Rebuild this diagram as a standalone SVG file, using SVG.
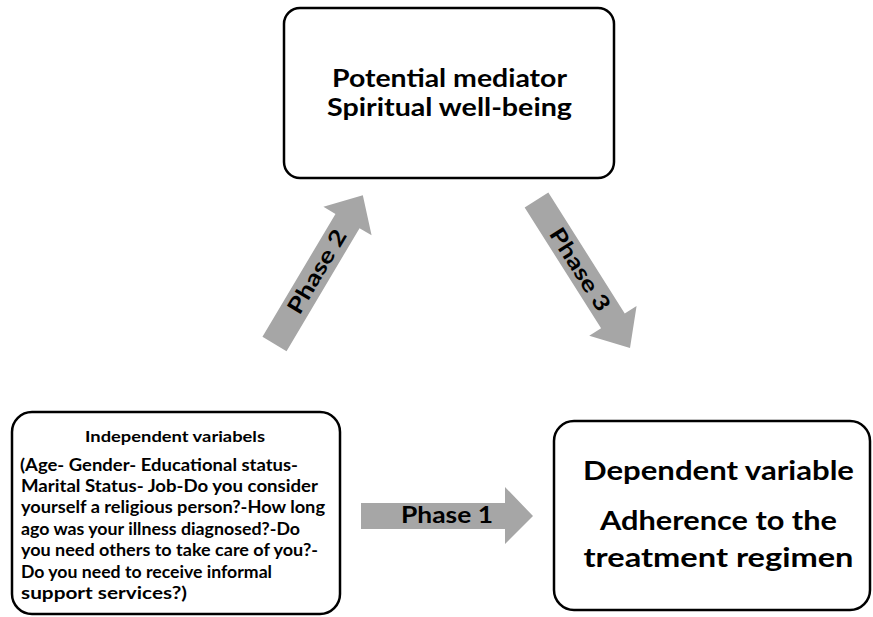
<svg xmlns="http://www.w3.org/2000/svg" width="873" height="617" viewBox="0 0 873 617">
<style>
.box{fill:#fff;stroke:#000;stroke-width:2.5}
.arr{fill:#a6a6a6}
text{font-family:Lato,"Liberation Sans",sans-serif;font-weight:bold;fill:#000}
.big{font-size:26px;text-anchor:middle}
.top{font-size:25px;text-anchor:middle}
.ph{font-size:22px;text-anchor:middle}
.sm{font-size:16.5px}
</style>
<rect width="873" height="617" fill="#fff"/>
<g id="connectors">
  <g id="phase1">
    <path class="arr" d="M361,503 L505,503 L505,487 L533,516 L505,544 L505,529 L361,529 Z"/>
    <text class="ph" x="447" y="523" textLength="92" lengthAdjust="spacingAndGlyphs">Phase 1</text>
  </g>
  <g id="phase2" transform="translate(274.5,344) rotate(-59.3)">
    <path class="arr" d="M0,-14 L143,-14 L143,-28 L173,0 L143,28 L143,14 L0,14 Z"/>
    <text class="ph" x="84" y="7" textLength="94" lengthAdjust="spacingAndGlyphs">Phase 2</text>
  </g>
  <g id="phase3" transform="translate(536.5,200) rotate(57.7)">
    <path class="arr" d="M0,-14 L143,-14 L143,-28 L175,0 L143,28 L143,14 L0,14 Z"/>
    <text class="ph" x="82" y="8" textLength="94" lengthAdjust="spacingAndGlyphs">Phase 3</text>
  </g>
</g>
<g id="mediator">
  <rect class="box" x="284" y="8" width="330" height="170" rx="16"/>
  <text class="top" x="449.5" y="87" textLength="235" lengthAdjust="spacingAndGlyphs">Potential mediator</text>
  <text class="top" x="449.5" y="116" textLength="245" lengthAdjust="spacingAndGlyphs">Spiritual well-being</text>
</g>
<g id="independent">
  <rect class="box" x="12" y="412" width="328" height="202" rx="20"/>
  <text x="175" y="442" font-size="15" text-anchor="middle" textLength="180" lengthAdjust="spacingAndGlyphs">Independent variabels</text>
  <text class="sm" x="20" y="471" textLength="278" lengthAdjust="spacingAndGlyphs">(Age- Gender- Educational status-</text>
  <text class="sm" x="21" y="492" textLength="297" lengthAdjust="spacingAndGlyphs">Marital Status- Job-Do you consider</text>
  <text class="sm" x="21" y="513" textLength="304" lengthAdjust="spacingAndGlyphs">yourself a religious person?-How long</text>
  <text class="sm" x="21" y="535" textLength="279" lengthAdjust="spacingAndGlyphs">ago was your illness diagnosed?-Do</text>
  <text class="sm" x="21" y="556" textLength="297" lengthAdjust="spacingAndGlyphs">you need others to take care of you?-</text>
  <text class="sm" x="21" y="578" textLength="251" lengthAdjust="spacingAndGlyphs">Do you need to receive informal</text>
  <text class="sm" x="21" y="599" textLength="166" lengthAdjust="spacingAndGlyphs">support services?)</text>
</g>
<g id="dependent">
  <rect class="box" x="554" y="421" width="316" height="189" rx="20"/>
  <text class="big" x="718.5" y="480" textLength="271" lengthAdjust="spacingAndGlyphs">Dependent variable</text>
  <text class="big" x="718.5" y="530" textLength="237" lengthAdjust="spacingAndGlyphs">Adherence to the</text>
  <text class="big" x="718.5" y="567" textLength="270" lengthAdjust="spacingAndGlyphs">treatment regimen</text>
</g>
</svg>
